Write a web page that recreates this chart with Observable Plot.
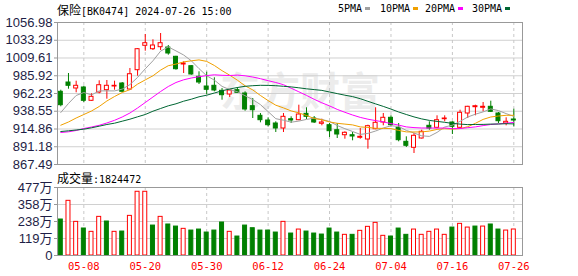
<!DOCTYPE html>
<html><head><meta charset="utf-8">
<script src="https://cdn.jsdelivr.net/npm/d3@7"></script>
<script src="https://cdn.jsdelivr.net/npm/@observablehq/plot@0.6"></script>
<style>
body{margin:0;background:#fff;}
#wrap{position:relative;width:578px;height:276px;overflow:hidden;background:#fff;}
.abs{position:absolute;white-space:nowrap;line-height:14px;color:#000;}
.cjk{font-family:"Noto Sans CJK SC",sans-serif;font-size:12px;}
.mono{font-family:"DejaVu Sans Mono",monospace;font-size:10px;}
.sw{position:absolute;width:5px;height:3px;}
</style></head><body>
<div id="wrap">
  <div id="main" class="abs" style="left:0;top:0"></div>
  <div id="vol" class="abs" style="left:0;top:170px"></div>
  <div class="abs" style="left:57px;top:3px"><span class="cjk">保险</span><span class="mono">[BK0474] 2024-07-26 15:00</span></div>
  <div id="legend"></div>
  <div class="abs" style="left:57px;top:171px"><span class="cjk">成交量</span><span class="mono">:1824472</span></div>
</div>
<script>
// ---- data ----
const xTickIdx = [3, 11, 19, 27, 35, 43, 51, 59];
const xTickLabels = ["05-08","05-20","05-30","06-12","06-24","07-04","07-16","07-26"];
const priceTicks = [867.49, 891.18, 914.86, 938.55, 962.23, 985.92, 1009.61, 1033.29, 1056.98];
const priceTickLabels = ["867.49","891.18","914.86","938.55","962.23","985.92","1009.61","1033.29","1056.98"];
const volTicks = [0, 119.25, 238.5, 357.75, 477];
const volTickLabels = ["0","119万","238万","358万","477万"];
const maNames = ["5PMA","10PMA","20PMA","30PMA"];
const maColors = ["#a0a0a0","#f0a000","#ff00ff","#006633"];

const open = [964.50,976.91,968.91,970.24,952.49,963.57,966.64,971.58,975.58,967.57,
  993.33,1025.89,1021.35,1024.02,1023.62,1011.21,1000.93,998.67,984.52,971.58,
  972.51,965.84,960.90,966.64,962.23,945.29,932.48,926.20,922.20,915.53,
  927.94,926.61,935.15,928.87,921.80,919.93,913.26,906.59,906.59,903.12,
  900.85,914.60,923.54,929.81,916.46,897.78,889.78,902.18,919.13,916.46,
  927.94,923.54,916.46,935.55,943.95,943.15,944.49,935.55,922.20,927.54];
const high = [966.64,988.92,978.65,971.98,961.83,979.18,979.58,978.65,976.91,995.60,
  1022.28,1040.97,1033.89,1042.30,1026.29,1011.88,1004.54,999.33,991.19,990.66,
  983.19,968.91,966.91,970.24,964.50,955.56,935.55,929.81,924.47,935.55,
  931.14,946.62,943.15,931.54,927.94,922.20,922.20,911.12,910.19,915.53,
  919.93,943.15,935.55,932.48,922.20,904.45,908.86,913.26,924.47,932.48,
  932.48,924.47,939.95,945.15,946.62,950.22,951.96,936.88,929.81,941.28];
const low = [944.49,967.97,963.17,950.22,951.83,961.83,954.63,966.64,963.84,966.64,
  985.32,1018.68,1019.62,1019.62,1013.34,993.33,988.92,986.65,974.24,960.90,
  964.50,953.29,956.90,962.23,938.61,928.87,923.14,917.80,910.19,910.19,
  922.20,925.94,927.54,922.20,919.13,903.52,902.18,901.25,899.12,901.25,
  887.91,913.93,919.13,917.80,897.78,890.17,882.17,901.52,913.26,915.53,
  924.47,907.52,915.80,928.87,932.48,937.81,936.88,922.20,919.13,917.80];
const close = [946.62,972.51,972.51,952.49,957.83,973.31,972.51,972.51,964.50,987.99,
  1021.35,1029.36,1026.29,1029.36,1015.61,994.66,1002.27,987.59,976.91,967.17,
  966.24,959.97,966.24,963.17,940.88,939.95,926.61,919.93,915.53,931.14,
  926.20,934.21,931.14,923.54,923.54,911.93,907.52,909.79,904.85,904.45,
  918.60,923.14,929.81,919.93,899.92,892.44,905.79,911.12,915.53,926.61,
  928.87,917.80,936.48,944.49,945.29,944.49,937.81,925.27,924.47,926.20];
const ma5 = [936.88,948.89,959.57,963.57,960.37,965.70,965.70,965.70,968.11,974.11,
  983.72,995.20,1005.87,1018.81,1024.42,1019.08,1013.61,1005.87,995.46,985.85,
  980.12,971.71,967.44,964.64,959.30,954.09,947.42,938.08,928.61,926.61,
  923.94,925.40,927.67,929.27,927.67,924.87,919.53,915.26,911.53,907.66,
  908.99,912.19,916.20,919.13,918.33,912.99,909.52,905.79,904.99,910.32,
  917.53,919.93,925.00,930.88,934.61,937.68,941.68,939.42,935.41,931.68];
const ma10 = [919.93,924.20,929.54,934.21,938.88,944.89,952.23,958.23,963.57,967.31,
  974.78,980.38,985.85,993.46,999.33,1001.47,1004.40,1005.87,1007.07,1005.07,
  999.60,992.66,986.65,979.98,972.51,967.04,959.57,952.76,946.62,943.02,
  939.02,936.35,932.88,928.87,927.14,924.34,922.47,921.40,920.33,917.66,
  917.00,915.80,915.66,915.40,912.99,910.99,910.86,910.99,912.06,914.33,
  915.26,914.73,915.40,917.93,922.47,927.67,930.88,932.21,933.14,933.14];
const ma20 = [910.19,911.12,912.86,915.53,917.53,919.80,922.87,926.47,930.88,936.21,
  942.89,950.22,957.56,964.90,971.58,976.91,980.52,982.92,984.65,986.12,
  987.19,986.52,986.25,986.79,985.85,984.25,981.98,979.32,976.91,973.98,
  969.31,964.50,959.70,954.49,949.82,945.69,941.02,937.15,933.54,930.34,
  927.94,926.07,924.34,922.07,920.07,917.66,916.73,916.20,916.20,916.06,
  916.20,915.26,915.53,916.60,917.66,919.40,920.87,921.67,922.60,923.67];
const ma30 = [911.53,912.46,913.53,914.60,916.46,918.60,920.87,922.60,925.27,927.94,
  931.14,934.21,938.61,942.22,945.82,948.49,951.96,954.63,957.83,959.97,
  962.90,965.84,968.24,970.24,971.84,972.64,973.18,973.04,972.64,971.84,
  971.04,969.84,968.51,967.44,966.37,964.24,962.10,959.97,958.10,955.30,
  951.83,948.36,945.02,941.42,937.55,934.21,931.01,928.34,926.34,925.00,
  923.80,922.34,921.40,920.73,920.87,921.00,921.40,921.53,921.93,921.67];
// volume in 万 (10k)
const volume = [252.5,383.5,236,189.4,166,271,238.5,166,168,278,
  447,447,210,271,217.5,203,187,175,182,161,
  175,231.5,166,133,210,191.5,175,175,161,236,
  154,182,168,154,147,189,161,145,145,173,
  201,229,138,133,189,145,182,145,166,182,
  145,196,222,196,203,203,217.5,182,175,182.4];
// 1 = red (up vs previous close), 0 = green
const volUp = [0,1,1,0,1,1,0,1,0,1,
  1,1,0,1,0,0,1,0,0,0,
  0,0,1,0,0,0,0,0,0,1,
  0,1,0,0,0,0,0,1,0,1,
  1,1,1,0,0,0,1,1,1,1,
  1,0,1,1,0,1,0,0,1,1];

// ---- build ----
const RED = "#ff0000", GRN = "#008000";
const candles = open.map((o, i) => ({i, o, h: high[i], l: low[i], c: close[i], up: close[i] >= o}));
const upC = candles.filter(d => d.up), dnC = candles.filter(d => !d.up);
const maSeries = [ma5, ma10, ma20, ma30];
const vols = volume.map((v, i) => ({i, v, up: volUp[i] === 1}));
const HW = 0.26;
const xDomain = [-0.43, 60.13];
const labelColor = "#1e1e46";
const axisFont = {fontFamily: "Liberation Sans, Noto Sans CJK SC, sans-serif", fontSize: 13};
const xLabelMap = new Map(xTickIdx.map((d, k) => [d, xTickLabels[k]]));
const pLabelMap = new Map(priceTicks.map((d, k) => [d, priceTickLabels[k]]));
const vLabelMap = new Map(volTicks.map((d, k) => [d, volTickLabels[k]]));

const main = Plot.plot({
  width: 578, height: 170,
  marginLeft: 57, marginRight: 56, marginTop: 22, marginBottom: 6,
  style: {background: "transparent", overflow: "visible"},
  x: {type: "linear", domain: xDomain, axis: null},
  y: {domain: [priceTicks[0], priceTicks[priceTicks.length - 1]], axis: null},
  marks: [
    Plot.text(["东方财富"], {frameAnchor: "middle", dx: 10, dy: 0, fontSize: 40, fontWeight: "bold",
      fontFamily: "Noto Sans CJK SC", fill: "#ececec"}),
    Plot.gridY(priceTicks.slice(1, -1), {stroke: "#d0d0d0", strokeOpacity: 1}),
    Plot.gridX(xTickIdx, {stroke: "#c8c8c8", strokeOpacity: 1, strokeDasharray: "3,3"}),
    Plot.axisY(priceTicks, {tickSize: 3, tickPadding: 2, stroke: "#999", fill: labelColor, label: null,
      tickFormat: d => pLabelMap.get(d), ...axisFont}),
    Plot.ruleX(dnC, {x: "i", y1: "l", y2: "h", stroke: GRN}),
    Plot.ruleX(upC, {x: "i", y1: "l", y2: "h", stroke: RED}),
    Plot.rect(dnC, {x1: d => d.i - HW, x2: d => d.i + HW, y1: "o", y2: "c", fill: GRN, stroke: GRN}),
    Plot.rect(upC, {x1: d => d.i - HW, x2: d => d.i + HW, y1: "o", y2: "c", fill: "#fff", stroke: RED}),
    ...maSeries.map((s, k) => Plot.line(s, {x: (d, i) => i, y: d => d, stroke: maColors[k], strokeWidth: 1})),
    Plot.frame({stroke: "#999"})
  ]
});
document.getElementById("main").append(main);

const vol = Plot.plot({
  width: 578, height: 106,
  marginLeft: 57, marginRight: 56, marginTop: 17, marginBottom: 21,
  style: {background: "transparent", overflow: "visible"},
  x: {type: "linear", domain: xDomain, axis: null, label: null},
  y: {domain: [0, 477], axis: null, label: null},
  marks: [
    Plot.gridY(volTicks.slice(1, -1), {stroke: "#d0d0d0", strokeOpacity: 1}),
    Plot.gridX(xTickIdx, {stroke: "#c8c8c8", strokeOpacity: 1, strokeDasharray: "3,3"}),
    Plot.axisY(volTicks, {tickSize: 3, tickPadding: 2, stroke: "#999", fill: labelColor, label: null,
      tickFormat: d => vLabelMap.get(d), ...axisFont}),
    Plot.axisX(xTickIdx, {tickSize: 0, tickPadding: 7, fill: RED, label: null, tickFormat: d => xLabelMap.get(d),
      fontFamily: "DejaVu Sans Mono, monospace", fontSize: 10.5}),
    Plot.rect(vols.filter(d => !d.up), {x1: d => d.i - HW, x2: d => d.i + HW, y1: 0, y2: "v", fill: GRN, stroke: GRN}),
    Plot.rect(vols.filter(d => d.up), {x1: d => d.i - HW, x2: d => d.i + HW, y1: 0, y2: "v", fill: "#fff", stroke: RED}),
    Plot.frame({stroke: "#999"})
  ]
});
document.getElementById("vol").append(vol);

// legend
const legend = document.getElementById("legend");
const legX = [338, 380, 425, 472];
maNames.forEach((n, k) => {
  const t = document.createElement("div");
  t.className = "abs mono"; t.style.left = legX[k] + "px"; t.style.top = "2px"; t.textContent = n;
  legend.append(t);
  const s = document.createElement("div");
  s.className = "sw"; s.style.left = (legX[k] + n.length * 6 + 3) + "px"; s.style.top = "7px";
  s.style.background = maColors[k];
  legend.append(s);
});
</script>
</body></html>
